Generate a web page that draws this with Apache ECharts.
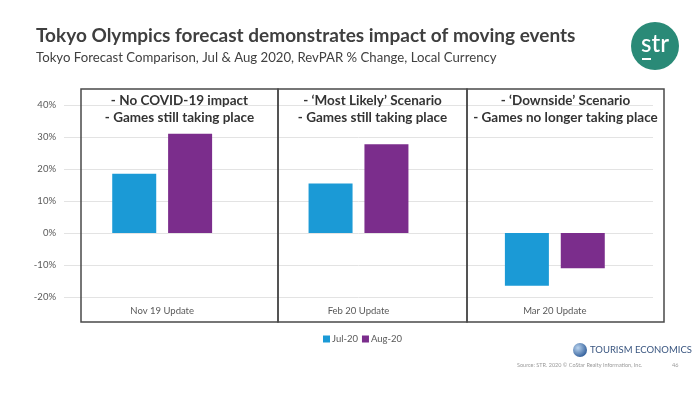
<!DOCTYPE html>
<html><head><meta charset="utf-8">
<script src="https://cdn.jsdelivr.net/npm/echarts@6/dist/echarts.min.js"></script>
<style>html,body{margin:0;padding:0;background:#fff}#c{width:700px;height:394px}</style>
</head><body><div id="c"></div>
<script>
const categories = ['Nov 19 Update', 'Feb 20 Update', 'Mar 20 Update'];
const seriesNames = ['Jul-20', 'Aug-20'];
const jul20 = [18.5, 15.5, -16.5];
const aug20 = [31.0, 27.7, -11.0];
const scenarioLines = [
  ['- No COVID-19 impact', '- Games still taking place'],
  ['- \u2018Most Likely\u2019 Scenario', '- Games still taking place'],
  ['- \u2018Downside\u2019 Scenario', '- Games no longer taking place']
];
const yTicks = { min: -20, max: 40, interval: 10 };

const FONT = 'Lato, "Open Sans", sans-serif';
const chart = echarts.init(document.getElementById('c'), null, { renderer: 'canvas' });

const panels = [[81, 278], [278, 467], [467, 664]];
const boxTop = 89, boxBottom = 322;
const graphics = [];
panels.forEach((p, i) => {
  graphics.push({
    type: 'rect', shape: { x: p[0], y: boxTop, width: p[1] - p[0], height: boxBottom - boxTop },
    style: { fill: 'none', stroke: '#4a4a4a', lineWidth: 1.5 }, z: 10
  });
  graphics.push({
    type: 'text', x: (p[0] + p[1]) / 2, y: 101,
    style: { text: scenarioLines[i][0], font: 'bold 13.5px ' + FONT, fill: '#333', align: 'center', verticalAlign: 'middle' }, z: 11
  });
  graphics.push({
    type: 'text', x: (p[0] + p[1]) / 2, y: 118,
    style: { text: scenarioLines[i][1], font: 'bold 13.5px ' + FONT, fill: '#333', align: 'center', verticalAlign: 'middle' }, z: 11
  });
});
// str logo
graphics.push({ type: 'circle', shape: { cx: 655, cy: 46, r: 24 }, style: { fill: '#2a8a77' } });
graphics.push({ type: 'text', x: 655, y: 44, style: { text: 'str', font: '500 24px ' + FONT, fill: '#fff', align: 'center', verticalAlign: 'middle' } });
graphics.push({ type: 'rect', shape: { x: 642, y: 58, width: 9, height: 2 }, style: { fill: '#fff' } });
// Tourism Economics logo
graphics.push({ type: 'circle', shape: { cx: 580, cy: 350, r: 7 },
  style: { fill: new echarts.graphic.RadialGradient(0.35, 0.35, 0.8, [{ offset: 0, color: '#b9d3ee' }, { offset: 1, color: '#1f4f8f' }]) } });
graphics.push({ type: 'text', x: 590, y: 350, style: { text: 'TOURISM ECONOMICS', font: '9.5px ' + FONT, fill: '#3a5680', verticalAlign: 'middle' } });
graphics.push({ type: 'text', x: 517, y: 365, style: { text: 'Source: STR. 2020 \u00a9 CoStar Realty Information, Inc.', font: '5.5px ' + FONT, fill: '#9a9a9a', verticalAlign: 'middle' } });
graphics.push({ type: 'text', x: 672, y: 365, style: { text: '46', font: '5.5px ' + FONT, fill: '#9a9a9a', verticalAlign: 'middle' } });

chart.setOption({
  backgroundColor: '#fff',
  animation: false,
  title: {
    text: 'Tokyo Olympics forecast demonstrates impact of moving events',
    subtext: 'Tokyo Forecast Comparison, Jul & Aug 2020, RevPAR % Change, Local Currency',
    left: 31, top: 21, itemGap: 6,
    textStyle: { fontFamily: FONT, fontSize: 19, fontWeight: 'bold', color: '#3f3f3f' },
    subtextStyle: { fontFamily: FONT, fontSize: 13.2, color: '#404040' }
  },
  legend: {
    data: seriesNames, left: 318, top: 329, itemWidth: 7, itemHeight: 7, itemGap: 4,
    icon: 'rect', textStyle: { fontFamily: FONT, fontSize: 9.5, color: '#595959', padding: [0, 0, 0, -3] }
  },
  grid: { left: 64, right: 47, top: 105, bottom: 97, containLabel: false },
  xAxis: {
    type: 'category', data: categories,
    axisLine: { show: false }, axisTick: { show: false },
    axisLabel: { fontFamily: FONT, fontSize: 9.5, color: '#595959', margin: 9 }
  },
  yAxis: {
    type: 'value', min: yTicks.min, max: yTicks.max, interval: yTicks.interval,
    axisLine: { show: false }, axisTick: { show: false },
    axisLabel: { formatter: v => v + '%', fontFamily: FONT, fontSize: 9.5, color: '#595959', margin: 8 },
    splitLine: { lineStyle: { color: '#e3e3e3', width: 1 } }
  },
  series: [
    { name: seriesNames[0], type: 'bar', data: jul20, barWidth: 44, barGap: '27%', itemStyle: { color: '#1b9ad6' } },
    { name: seriesNames[1], type: 'bar', data: aug20, barWidth: 44, barGap: '27%', itemStyle: { color: '#7b2d8c' } }
  ],
  graphic: graphics
});
</script></body></html>
